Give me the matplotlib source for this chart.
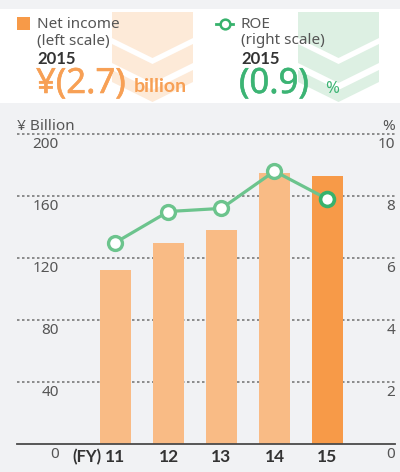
import matplotlib
matplotlib.use('Agg')
from matplotlib import pyplot as plt
from matplotlib.patches import Rectangle, Polygon
from matplotlib.lines import Line2D
from matplotlib import transforms
from matplotlib import patheffects

plt.rcParams['font.family'] = ['Noto Sans', 'DejaVu Sans']
BOLD = ['Lato', 'DejaVu Sans']

# data
years = ['11', '12', '13', '14', '15']
net_income = [112, 130, 138, 175, 173]   # ¥ billion, left scale
roe = [6.5, 7.5, 7.6, 8.8, 7.9]          # %, right scale
left_ticks = [0, 40, 80, 120, 160, 200]
right_ticks = [0, 2, 4, 6, 8, 10]

bg = '#f1f2f4'
bar_light = '#f9bb85'
bar_dark = '#f79a48'
green = '#6cc48d'
green_dark = '#37b26c'
orange_txt = '#f7a055'
green_txt = '#3cb474'
grey_txt = '#555555'

fig = plt.figure(figsize=(4, 4.72), dpi=100)
fig.patch.set_facecolor(bg)

# overlay in pixel coords for the header panel
deco = fig.add_axes([0, 0, 1, 1], zorder=0)
deco.set_xlim(0, 400)
deco.set_ylim(472, 0)
deco.axis('off')
deco.add_patch(Rectangle((0, 9), 400, 94, color='white', lw=0))


def chevrons(x0, x1, color):
    xc = (x0 + x1) / 2
    d = 20
    # top one has flat top
    deco.add_patch(Polygon([(x0, 12), (x1, 12), (x1, 38), (xc, 38 + d), (x0, 38)],
                           closed=True, color=color, lw=0))
    for yt, yb in [(44, 63), (70, 82)]:
        deco.add_patch(Polygon([(x0, yt), (xc, yt + d), (x1, yt), (x1, yb), (xc, yb + d), (x0, yb)],
                               closed=True, color=color, lw=0))


chevrons(112, 193, '#fdead8')
chevrons(298, 379, '#ddf0e3')

# big numbers are a bit heavier than regular
thick_o = [patheffects.withStroke(linewidth=0.4, foreground=orange_txt)]
thick_g = [patheffects.withStroke(linewidth=0.4, foreground=green_txt)]

# legend / header texts
deco.add_patch(Rectangle((17, 17), 13, 13, color=bar_dark, lw=0))
deco.text(37, 24, 'Net income', fontsize=11, color=grey_txt, va='center')
deco.text(37, 41, '(left scale)', fontsize=11, color=grey_txt, va='center')
deco.text(37, 59, '2015', fontsize=12, fontweight='bold', family=BOLD, color='#333333', va='center')
deco.text(36, 84, '¥(2.7)', fontsize=25, color=orange_txt, va='center', path_effects=thick_o)
deco.text(134, 87, 'billion', fontsize=14, fontweight='bold', family=BOLD, color=orange_txt, va='center')

deco.add_line(Line2D([216, 233], [24, 24], color=green_dark, lw=2))
deco.plot([224.5], [24], 'o', ms=7, mfc='white', mec=green_dark, mew=1.8)
deco.text(241, 24, 'ROE', fontsize=11, color=grey_txt, va='center')
deco.text(241, 41, '(right scale)', fontsize=11, color=grey_txt, va='center')
deco.text(241, 59, '2015', fontsize=12, fontweight='bold', family=BOLD, color='#333333', va='center')
deco.text(239, 84, '(0.9)', fontsize=25, color=green_txt, va='center', path_effects=thick_g)
deco.text(325, 89, '%', fontsize=12, color=green_txt, va='center')

# main chart
ax = fig.add_axes([17 / 400, 28 / 472, 378 / 400, 310 / 472], zorder=1)
ax.patch.set_alpha(0)
x = list(range(len(years)))
colors = [bar_light] * (len(years) - 1) + [bar_dark]
ax.bar(x, net_income, width=0.585, color=colors, zorder=2)
ax.set_xlim(-1.858, 5.274)
ax.set_ylim(0, 200)
for s in ['top', 'right', 'left']:
    ax.spines[s].set_visible(False)
ax.spines['bottom'].set_color('#4a4a4a')
ax.spines['bottom'].set_linewidth(1.3)
ax.set_xticks([])
ax.set_yticks([])
for v in left_ticks[1:]:
    ax.axhline(v, color='#7a7a7a', lw=1.2, ls=(0, (1.5, 1.5)), clip_on=False, zorder=1)

# tick labels sit below the grid lines
ytrans = transforms.offset_copy(ax.get_yaxis_transform(), fig=fig, y=-11, units='dots')
xtrans = transforms.offset_copy(ax.transData, fig=fig, y=-13, units='dots')
for v in left_ticks:
    ax.text(0.111, v, str(v), transform=ytrans, ha='right', va='center', fontsize=11, color=grey_txt)
for v, lab in zip(left_ticks, right_ticks):
    ax.text(1.0, v, str(lab), transform=ytrans, ha='right', va='center', fontsize=11, color=grey_txt)
for i, yr in enumerate(years):
    ax.text(i, 0, yr, transform=xtrans, ha='center', va='center', fontsize=12.5,
            fontweight='bold', family=BOLD, color='#333333')
ax.text(-0.27, 0, '(FY)', transform=xtrans, ha='right', va='center', fontsize=12,
        fontweight='bold', family=BOLD, color='#333333')
ax.text(0, 1.0, '¥ Billion', transform=ax.transAxes, ha='left', va='bottom', fontsize=11,
        color=grey_txt)
ax.text(1.0, 1.0, '%', transform=ax.transAxes, ha='right', va='bottom', fontsize=11,
        color=grey_txt)

ax2 = ax.twinx()
ax2.set_ylim(0, 10)
ax2.axis('off')
ax2.plot(x, roe, color=green, lw=2.3, zorder=3)
ax2.plot(x[:-1], roe[:-1], 'o', ms=10, mfc='white', mec=green, mew=2.4, zorder=4)
ax2.plot(x[-1:], roe[-1:], 'o', ms=10, mfc='white', mec=green_dark, mew=2.6, zorder=4)

fig.savefig('out.png', dpi=100, facecolor=bg)
